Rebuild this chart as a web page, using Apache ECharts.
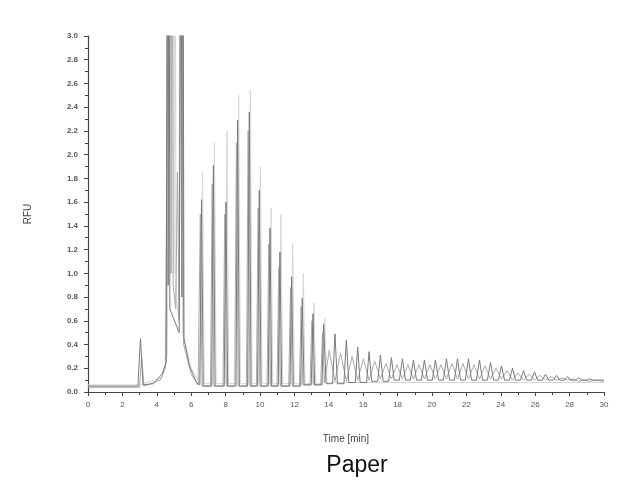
<!DOCTYPE html>
<html>
<head>
<meta charset="utf-8">
<script src="https://cdn.jsdelivr.net/npm/echarts@6/dist/echarts.min.js"></script>
<style>html,body{margin:0;padding:0;background:#fff}#c{width:620px;height:484px}</style>
</head>
<body>
<div id="c"></div>
<script>
// Axis ticks
const xTicks = [0,2,4,6,8,10,12,14,16,18,20,22,24,26,28,30];
const yTicks = [0,0.2,0.4,0.6,0.8,1.0,1.2,1.4,1.6,1.8,2.0,2.2,2.4,2.6,2.8,3.0];

// Trace A (main, darker) [time min, RFU]
const traceA = [
[0,0.05],[2.9,0.05],[3.05,0.45],[3.2,0.06],[3.8,0.07],[4.3,0.15],[4.55,0.25],[4.62,6],[4.66,0.9],[4.7,6],[4.76,0.7],[5.3,0.5],[5.42,6],[5.46,0.8],[5.5,6],[5.58,0.45],[5.9,0.22],[6.3,0.08],
[6.5,0.06],[6.6,1.62],[6.7,0.05],
[7.19,0.05],[7.29,1.91],[7.39,0.05],
[7.92,0.05],[8.02,1.60],[8.12,0.05],
[8.6,0.05],[8.70,2.29],[8.8,0.05],
[9.28,0.05],[9.38,2.36],[9.48,0.05],
[9.86,0.05],[9.96,1.70],[10.06,0.05],
[10.48,0.05],[10.58,1.38],[10.68,0.05],
[11.06,0.05],[11.16,1.18],[11.26,0.05],
[11.74,0.05],[11.84,0.97],[11.94,0.05],
[12.36,0.05],[12.46,0.79],[12.56,0.06],
[12.98,0.06],[13.08,0.66],[13.18,0.06],
[13.6,0.06],[13.70,0.57],[13.84,0.07],
[14.22,0.07],[14.36,0.49],[14.5,0.07],[14.88,0.07],[15.02,0.44],[15.16,0.08],[15.54,0.08],[15.68,0.38],[15.82,0.08],
[16.2,0.08],[16.34,0.34],[16.5,0.09],[16.84,0.09],[17.0,0.31],[17.16,0.09],[17.48,0.09],[17.64,0.29],[17.8,0.1],
[18.1,0.1],[18.28,0.28],[18.46,0.1],[18.74,0.1],[18.92,0.27],[19.1,0.1],[19.38,0.1],[19.56,0.27],[19.74,0.1],
[20.02,0.1],[20.2,0.27],[20.38,0.1],[20.66,0.1],[20.84,0.28],[21.02,0.1],[21.3,0.1],[21.48,0.28],[21.66,0.1],
[21.94,0.1],[22.12,0.28],[22.3,0.1],[22.58,0.1],[22.76,0.27],[22.94,0.1],[23.22,0.1],[23.4,0.25],[23.58,0.1],
[23.86,0.1],[24.04,0.22],[24.22,0.1],[24.5,0.1],[24.68,0.2],[24.86,0.1],[25.14,0.1],[25.32,0.18],[25.5,0.1],
[25.78,0.1],[25.96,0.17],[26.14,0.1],[26.42,0.1],[26.6,0.15],[26.78,0.1],[27.06,0.1],[27.24,0.14],[27.42,0.1],
[27.7,0.1],[27.88,0.13],[28.06,0.1],[28.34,0.1],[28.52,0.12],[28.7,0.1],[28.98,0.1],[29.16,0.11],[29.34,0.1],
[29.8,0.1],[30,0.1]
];

// Trace B (lighter overlay)
const traceB = [
[0,0.04],[3.0,0.04],[3.12,0.3],[3.25,0.05],[4.2,0.1],[4.5,0.2],[4.78,6],[4.83,1.0],[4.88,6],[4.95,0.9],[5.1,0.7],[5.2,1.85],[5.3,0.6],[5.48,6],[5.56,0.4],[6.0,0.15],[6.4,0.06],
[6.53,1.5],[6.63,0.05],
[7.12,0.05],[7.22,1.75],[7.32,0.05],
[7.85,0.05],[7.95,1.5],[8.05,0.05],
[8.53,0.05],[8.63,2.1],[8.73,0.05],
[9.21,0.05],[9.31,2.2],[9.41,0.05],
[9.79,0.05],[9.89,1.55],[9.99,0.05],
[10.41,0.05],[10.51,1.25],[10.61,0.05],
[10.99,0.05],[11.09,1.05],[11.19,0.05],
[11.67,0.05],[11.77,0.88],[11.87,0.05],
[12.29,0.05],[12.39,0.72],[12.49,0.06],
[12.91,0.06],[13.01,0.6],[13.11,0.06],
[13.53,0.06],[13.63,0.5],[13.75,0.08],
[14.02,0.35],[14.36,0.09],[14.68,0.33],[15.02,0.09],[15.35,0.3],[15.68,0.1],
[16.01,0.28],[16.34,0.1],[16.67,0.26],[17.0,0.11],[17.32,0.24],[17.64,0.11],
[17.96,0.23],[18.28,0.11],[18.6,0.23],[18.92,0.11],[19.24,0.23],[19.56,0.11],
[19.88,0.23],[20.2,0.11],[20.52,0.23],[20.84,0.11],[21.16,0.24],[21.48,0.11],
[21.8,0.24],[22.12,0.11],[22.44,0.23],[22.76,0.11],[23.08,0.22],[23.4,0.11],
[23.72,0.2],[24.04,0.11],[24.36,0.18],[24.68,0.1],[25.0,0.16],[25.32,0.1],
[25.64,0.15],[25.96,0.1],[26.28,0.14],[26.6,0.1],[26.92,0.13],[27.24,0.1],
[27.56,0.12],[27.88,0.1],[28.2,0.11],[28.52,0.09],[28.84,0.1],[29.16,0.09],
[29.48,0.1],[30,0.09]
];

// Trace C (faint overlay)
const traceC = [
[0,0.06],[3.0,0.06],[4.3,0.12],[4.6,0.3],[4.95,6],[5.0,1.0],[5.05,6],[5.12,0.8],[5.28,0.6],[5.38,6],[5.5,0.5],[6.0,0.2],[6.5,0.08],
[6.56,0.07],[6.66,1.85],[6.76,0.07],
[7.25,0.07],[7.35,2.1],[7.45,0.07],
[7.98,0.07],[8.08,2.2],[8.18,0.07],
[8.66,0.07],[8.76,2.5],[8.86,0.07],
[9.34,0.07],[9.44,2.55],[9.54,0.07],
[9.92,0.07],[10.02,1.9],[10.12,0.07],
[10.54,0.07],[10.64,1.55],[10.74,0.07],
[11.12,0.07],[11.22,1.5],[11.32,0.07],
[11.8,0.07],[11.9,1.25],[12.0,0.07],
[12.42,0.07],[12.52,1.0],[12.62,0.07],
[13.04,0.07],[13.14,0.75],[13.24,0.07],
[13.66,0.07],[13.76,0.62],[13.9,0.08],
[30,0.08]
];

const chart = echarts.init(document.getElementById('c'), null, {renderer:'canvas'});
const lineSeries = (data, color, z) => ({
  type:'line', data:data, symbol:'none', showSymbol:false, clip:true, z:z,
  lineStyle:{color:color, width:1}, animation:false
});
chart.setOption({
  animation:false,
  backgroundColor:'#ffffff',
  grid:{left:88, right:16, top:36, bottom:92, containLabel:false},
  xAxis:{
    type:'value', min:xTicks[0], max:xTicks[xTicks.length-1], interval:2,
    name:'Time [min]', nameLocation:'middle', nameGap:42,
    nameTextStyle:{fontFamily:'Liberation Sans', fontSize:10, color:'#444'},
    axisLine:{show:true, onZero:false, lineStyle:{color:'#444', width:1.2}},
    axisTick:{show:true, length:4, lineStyle:{color:'#444'}},
    minorTick:{show:true, splitNumber:2, length:3, lineStyle:{color:'#444'}},
    splitLine:{show:false},
    axisLabel:{fontFamily:'Liberation Sans', fontSize:8, color:'#555', margin:9}
  },
  yAxis:{
    type:'value', min:yTicks[0], max:yTicks[yTicks.length-1], interval:0.2,
    name:'RFU', nameLocation:'middle', nameGap:55, nameRotate:90,
    nameTextStyle:{fontFamily:'Liberation Sans', fontSize:10, color:'#444'},
    axisLine:{show:true, lineStyle:{color:'#444', width:1.2}},
    axisTick:{show:true, length:4, lineStyle:{color:'#444'}},
    minorTick:{show:true, splitNumber:2, length:3, lineStyle:{color:'#444'}},
    splitLine:{show:false},
    axisLabel:{fontFamily:'Liberation Sans', fontSize:8, color:'#555', margin:10, fontWeight:'bold',
      formatter:v=>v.toFixed(1)}
  },
  title:{text:'Paper', left:352, top:449, textAlign:'center',
    textStyle:{fontFamily:'Liberation Sans', fontSize:23, fontWeight:'normal', color:'#111'}},
  series:[
    lineSeries(traceC, '#d6d6d6', 1),
    lineSeries(traceB, '#ababab', 2),
    lineSeries(traceA, '#7a7a7a', 3)
  ]
});
</script>
</body>
</html>
